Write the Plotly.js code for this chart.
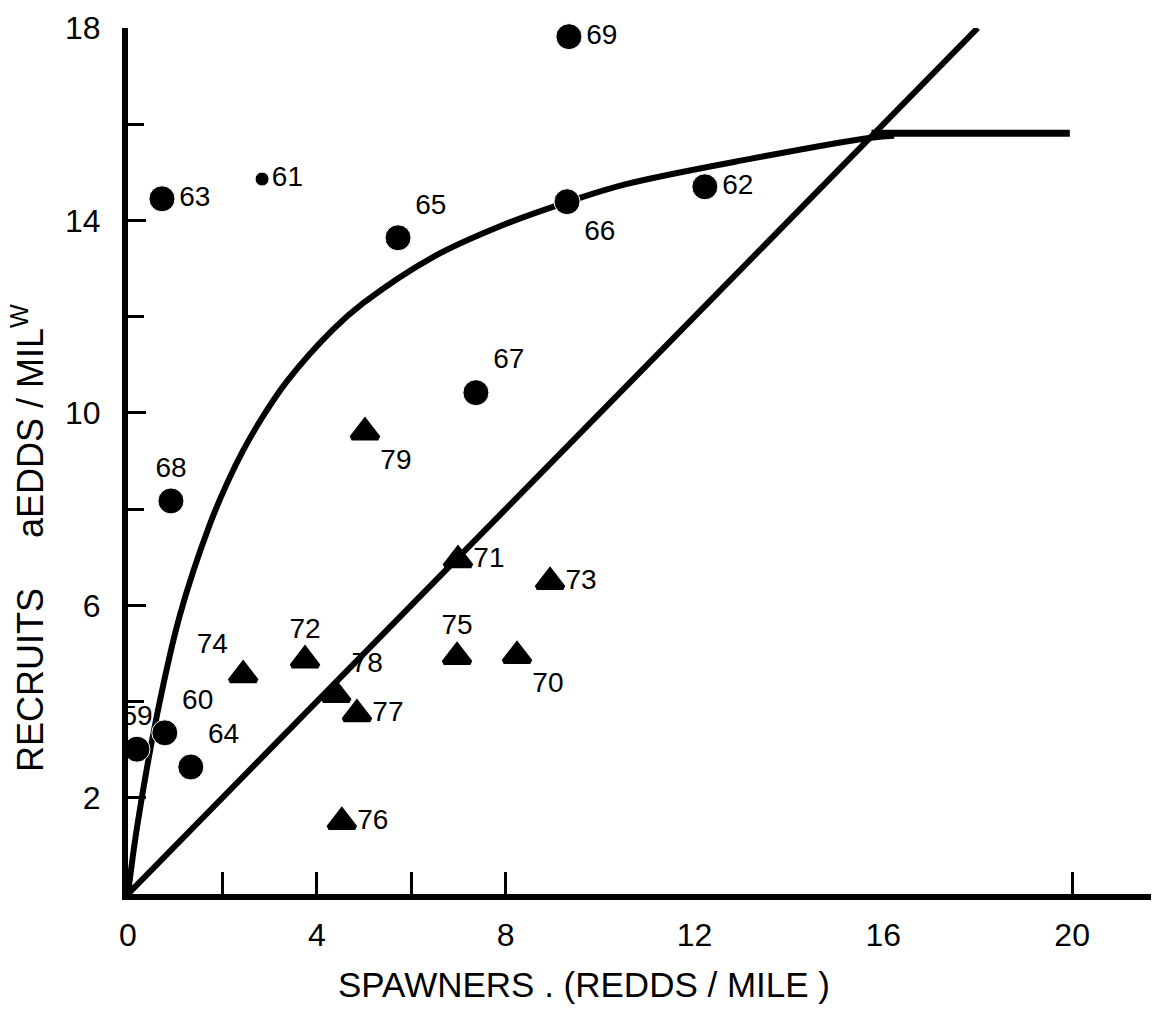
<!DOCTYPE html>
<html><head><meta charset="utf-8">
<script src="https://cdn.plot.ly/plotly-3.0.1.min.js"></script>
<style>html,body{margin:0;padding:0;background:#fff}#chart{width:1153px;height:1011px}</style>
</head><body><div id="chart"></div>
<script>
// Years 1959-1969 (circles)
const circleYears = ['59','60','61','62','63','64','65','66','67','68','69'];
const circleSpawners = [0.19, 0.78, 2.84, 12.22, 0.72, 1.33, 5.72, 9.30, 7.37, 0.91, 9.34];
const circleRecruits = [3.01, 3.35, 14.86, 14.70, 14.45, 2.64, 13.64, 14.39, 10.42, 8.17, 17.82];
// Years 1970-1979 (triangles)
const triYears = ['70','71','72','73','74','75','76','77','78','79'];
const triSpawners = [8.24, 6.99, 3.75, 8.94, 2.44, 6.97, 4.53, 4.85, 4.41, 5.02];
const triRecruits = [4.95, 6.94, 4.86, 6.49, 4.55, 4.93, 1.50, 3.74, 4.14, 9.60];
// Fitted spawner-recruit curve
const curveSpawners = [0, 0.19, 0.61, 1.10, 1.74, 2.10, 2.44, 2.86, 3.37, 4.34, 4.98, 6.46, 7.88, 9.30, 10.53, 13.18, 15.74, 16.23];
const curveRecruits = [0, 1.38, 3.70, 5.80, 7.70, 8.54, 9.22, 9.93, 10.66, 11.73, 12.28, 13.24, 13.88, 14.38, 14.75, 15.28, 15.72, 15.76];
// Plateau line
const plateauSpawners = [15.75, 19.95];
const plateauRecruits = [15.81, 15.81];
// Replacement line
const replacementSpawners = [0, 18];
const replacementRecruits = [0, 18];
// Ticks
const xTickVals = [0, 4, 8, 12, 16, 20];
const xTickText = ['0', '4', '8', '12', '16', '20'];
const xMarkVals = [2, 4, 6, 8, 20];
const yTickVals = [2, 6, 10, 14, 18];
const yTickText = ['2', '6', '10', '14', '18'];
const yMinorVals = [4, 8, 12, 16];

// styling
const circlePos = {'59':'top center','60':'top right','61':'middle right','62':'middle right','63':'middle right',
  '64':'top right','65':'top right','66':'bottom right','67':'top right','68':'top center','69':'middle right'};
const triPos = {'70':'bottom right','71':'middle right','72':'top center','73':'middle right','74':'top left',
  '75':'top center','76':'middle right','77':'middle right','78':'top right','79':'bottom right'};
const FONT = 'Liberation Sans, Arial, Helvetica, sans-serif';
const labelFont = {family: FONT, size: 28, color: '#000'};

const traces = [
  {x: curveSpawners, y: curveRecruits, mode: 'lines', line: {color: '#000', width: 6, shape: 'spline', smoothing: 1}, hoverinfo: 'skip'},
  {x: plateauSpawners, y: plateauRecruits, mode: 'lines', line: {color: '#000', width: 7}, hoverinfo: 'skip'},
  {x: replacementSpawners, y: replacementRecruits, xaxis: 'x2', mode: 'lines', line: {color: '#000', width: 6}, hoverinfo: 'skip'},
  {x: circleSpawners, y: circleRecruits, text: circleYears, mode: 'markers+text', cliponaxis: false,
   textposition: circleYears.map(y => circlePos[y]), textfont: labelFont,
   marker: {symbol: 'circle', color: '#000', opacity: 1, size: circleYears.map(y => y === '61' ? 14 : 26)}},
  {x: triSpawners, y: triRecruits, text: triYears, mode: 'markers+text', cliponaxis: false,
   textposition: triYears.map(y => triPos[y]), textfont: labelFont,
   marker: {symbol: 'triangle-up', color: '#000', opacity: 1, size: 23, line: {color: '#000', width: 5}}}
];

const layout = {
  width: 1153, height: 1011,
  margin: {l: 128, r: 2, t: 28, b: 117},
  paper_bgcolor: '#fff', plot_bgcolor: '#fff',
  showlegend: false,
  font: {family: FONT, color: '#000'},
  xaxis: {range: [0, 21.67], showgrid: false, zeroline: false, showline: true, linewidth: 6, linecolor: '#000',
    tickmode: 'array', tickvals: xTickVals, ticktext: xTickText, ticks: '', tickfont: {size: 32, family: FONT},
    ticklabelstandoff: 8, fixedrange: true},
  xaxis2: {overlaying: 'x', anchor: 'y', range: [0, 21.67], showgrid: false, zeroline: false, showline: false,
    tickmode: 'array', tickvals: xMarkVals, ticks: 'inside', ticklen: 22, tickwidth: 3, tickcolor: '#000',
    showticklabels: false, fixedrange: true},
  yaxis: {range: [0, 18], showgrid: false, zeroline: false, showline: true, linewidth: 6, linecolor: '#000',
    tickmode: 'array', tickvals: yTickVals, ticktext: yTickText, ticks: 'inside', ticklen: 18, tickwidth: 3,
    tickcolor: '#000', tickfont: {size: 32, family: FONT}, ticklabelstandoff: 15, fixedrange: true,
    minor: {tickmode: 'array', tickvals: yMinorVals, ticks: 'inside', ticklen: 16, tickwidth: 3, tickcolor: '#000', showgrid: false}},
  annotations: [
    {text: 'SPAWNERS . (REDDS / MILE )', xref: 'paper', yref: 'paper', x: 0.446, y: -0.105,
     xanchor: 'center', yanchor: 'middle', showarrow: false, font: {size: 35, family: FONT, color: '#000'}},
    {text: 'RECRUITS\u00a0\u00a0\u00a0\u00a0\u00a0aEDDS / MIL<sup>W</sup>', xref: 'paper', yref: 'paper',
     x: -0.0978, y: 0.411, xanchor: 'center', yanchor: 'middle', textangle: -90, showarrow: false,
     font: {size: 36, family: FONT, color: '#000'}}
  ]
};

Plotly.newPlot('chart', traces, layout, {displayModeBar: false, staticPlot: true});
</script>
</body></html>
